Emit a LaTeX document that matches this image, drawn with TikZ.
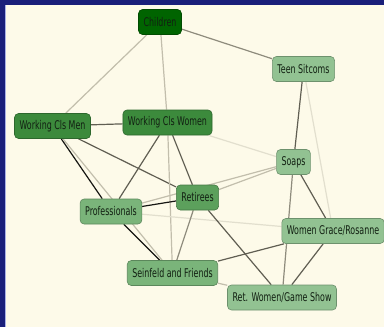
\documentclass[tikz,border=0pt]{standalone}
\usepackage{fontspec}
\setmainfont{DejaVu Sans}[FakeStretch=0.66]
\usepackage{xcolor}
\usetikzlibrary{backgrounds}
\definecolor{frameblue}{RGB}{26,31,122}
\definecolor{framelight}{RGB}{170,178,230}
\definecolor{paper}{RGB}{253,250,233}
\definecolor{txt}{RGB}{18,32,18}
\definecolor{gDark}{RGB}{0,100,0}
\definecolor{gMid}{RGB}{60,138,60}
\definecolor{gRet}{RGB}{92,160,92}
\definecolor{gPro}{RGB}{122,180,122}
\definecolor{gLight}{RGB}{146,194,146}
\definecolor{inkA}{RGB}{22,22,18}
\definecolor{inkB}{RGB}{96,94,82}
\definecolor{inkC}{RGB}{142,139,124}
\definecolor{inkD}{RGB}{194,190,172}
\definecolor{inkE}{RGB}{226,223,206}

\begin{document}
\begin{tikzpicture}[x=1pt,y=-1pt]
            \tikzset{
            tv node/.style={rectangle,rounded corners=4pt,draw=#1!75!black,fill=#1,line width=0.6pt,
                minimum height=25pt,inner xsep=5pt,inner ysep=0pt,text=txt,font=\fontsize{12}{14}\selectfont},
            tv edge/.style={line width=1.2pt,draw=#1}
            }
            \useasboundingbox (0,0) rectangle (384,327);
            \node[tv node=gDark] (ch) at (160,22) {Children};
            \node[tv node=gLight] (ts) at (303.5,69) {Teen Sitcoms};
            \node[tv node=gMid] (wm) at (52.5,126) {Working Cls Men};
            \node[tv node=gMid] (ww) at (167.5,122.5) {Working Cls Women};
            \node[tv node=gLight] (so) at (293.5,162) {Soaps};
            \node[tv node=gRet] (re) at (197.5,197.5) {Retirees};
            \node[tv node=gPro] (pr) at (111,211.5) {Professionals};
            \node[tv node=gLight] (wg) at (333,231) {Women Grace/Rosanne};
            \node[tv node=gPro] (sf) at (172.5,273) {Seinfeld and Friends};
            \node[tv node=gLight] (rw) at (282,297.5) {Ret. Women/Game Show};

            \begin{scope}[on background layer]
            \fill[frameblue] (0,0) rectangle (384,327);
            \fill[paper] (5.5,5) rectangle (384,327);
            \draw[framelight,line width=1pt] (5.5,5) -- (5.5,327);
            \path[-]
            (ch) edge[tv edge=inkC] (ts)
            (ch) edge[tv edge=inkD] (wm)
            (ch) edge[tv edge=inkD] (ww)
            (wm) edge[tv edge=inkB] (ww)
            (wm) edge[tv edge=inkB] (re)
            (wm) edge[tv edge=inkA] (pr)
            (wm) edge[tv edge=inkD] (sf)
            (ww) edge[tv edge=inkB] (pr)
            (ww) edge[tv edge=inkB] (re)
            (ww) edge[tv edge=inkD] (sf)
            (ww) edge[tv edge=inkE] (so)
            (pr) edge[tv edge=inkA] (re)
            (pr) edge[tv edge=inkD] (so)
            (pr) edge[tv edge=inkE] (wg)
            (pr) edge[tv edge=inkA] (sf)
            (re) edge[tv edge=inkD] (so)
            (re) edge[tv edge=inkC] (sf)
            (re) edge[tv edge=inkB] (rw)
            (sf) edge[tv edge=inkB] (wg)
            (sf) edge[tv edge=inkD] (rw)
            (ts) edge[tv edge=inkB] (so)
            (ts) edge[tv edge=inkE] (wg)
            (so) edge[tv edge=inkB] (wg)
            (so) edge[tv edge=inkC] (rw)
            (wg) edge[tv edge=inkB] (rw)
            ;
            \end{scope}
\end{tikzpicture}
\end{document}
